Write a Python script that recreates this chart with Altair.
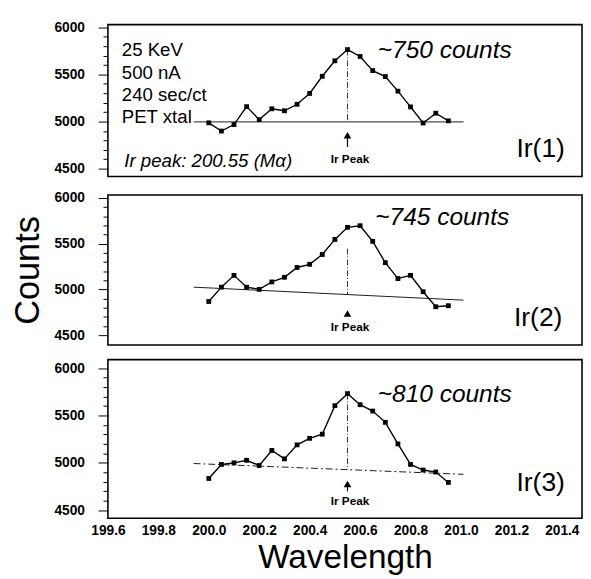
import altair as alt
import pandas as pd

# ---------------- data ----------------
wavelength = [200.00, 200.05, 200.10, 200.15, 200.20, 200.25, 200.30, 200.35, 200.40, 200.45,
              200.50, 200.55, 200.60, 200.65, 200.70, 200.75, 200.80, 200.85, 200.90, 200.95]
counts_1 = [4986, 4899, 4968, 5158, 5020, 5135, 5114, 5183, 5298, 5480,
            5644, 5763, 5690, 5540, 5477, 5322, 5155, 4984, 5088, 5007]
counts_2 = [4868, 5025, 5154, 5025, 5001, 5082, 5133, 5240, 5275, 5382,
            5547, 5679, 5697, 5526, 5293, 5119, 5154, 4975, 4811, 4822]
counts_3 = [4835, 4983, 5000, 5027, 4972, 5131, 5042, 5190, 5259, 5303,
            5604, 5731, 5614, 5547, 5428, 5200, 4983, 4924, 4903, 4793]

panel_labels = ["Ir(1)", "Ir(2)", "Ir(3)"]
excess_labels = ["~750 counts", "~745 counts", "~810 counts"]
info_lines = ["25 KeV", "500 nA", "240 sec/ct", "PET xtal"]
info_counts = [5758, 5509, 5280, 5051]
peak_note = "Ir peak: 200.55 (M\u03b1)"
peak_wavelength = 200.55
peak_label = "Ir Peak"

y_ticks = [4500, 4600, 4700, 4800, 4900, 5000, 5100, 5200, 5300, 5400,
           5500, 5600, 5700, 5800, 5900, 6000]
x_ticks = [199.6, 199.8, 200.0, 200.2, 200.4, 200.6, 200.8, 201.0, 201.2, 201.4]

# background (baseline) lines: start / end wavelength and counts
background_x = [199.94, 201.01]
background_y = [[4996, 4996], [5025, 4883], [4993, 4879]]
# peak marker lines (top / bottom counts)
peak_top = [5763, 5446, 5731]
peak_bottom = [4996, 4940, 4929]
# arrows below the baseline (head, stem end)
arrow_head = [4854, 4736, 4776]
arrow_tail = [4730, 4736, 4700]
peak_label_y = [4600, 4586, 4600]
# annotation anchors
excess_xy = [(200.67, 5758), (200.66, 5786), (200.67, 5728)]
panel_label_xy = [(201.22, 4707), (201.21, 4685), (201.22, 4786)]
note_xy = (199.665, 4584)
info_x = 199.655

domains = [[4417, 6028], [4393, 6032], [4414, 6090]]
heights = [155, 153, 162]
series = [counts_1, counts_2, counts_3]

FONT = "Liberation Sans"
W = 484

x_scale = alt.Scale(domain=[199.6, 201.48], nice=False, zero=False)


def make_panel(i):
    last = i == 2
    if last:
        x_axis = alt.Axis(values=x_ticks, format=".1f", ticks=False, domain=False, grid=False,
                          labelFlush=False, labelOverlap=False,
                          labelFont=FONT, labelFontWeight="bold", labelFontSize=14,
                          labelPadding=6, labelColor="black",
                          title="Wavelength", titleFont=FONT, titleFontSize=34,
                          titleFontWeight="normal", titlePadding=3, titleColor="black")
        xenc = alt.X("x:Q", scale=x_scale, axis=x_axis)
    else:
        xenc = alt.X("x:Q", scale=x_scale, axis=None)

    y_axis_kw = dict(values=y_ticks, format="d", labelFlush=False, labelOverlap=False,
                     labelExpr="datum.value % 500 === 0 ? datum.label : ''",
                     tickSize={"condition": {"test": "datum.value % 500 === 0", "value": 10}, "value": 5},
                     tickColor="black", tickWidth=1, domain=False, grid=False,
                     labelFont=FONT, labelFontWeight="bold", labelFontSize=14,
                     labelPadding=14, labelColor="black")
    if i == 1:
        y_axis = alt.Axis(title="Counts", titleFont=FONT, titleFontSize=35,
                          titleFontWeight="normal", titlePadding=9, titleColor="black",
                          **y_axis_kw)
    else:
        y_axis = alt.Axis(title=None, **y_axis_kw)
    yenc = alt.Y("y:Q", scale=alt.Scale(domain=domains[i], nice=False, zero=False), axis=y_axis)

    data = pd.DataFrame({"x": wavelength, "y": series[i]})
    line = alt.Chart(data).mark_line(color="black", strokeWidth=1.4).encode(x=xenc, y=yenc)
    pts = alt.Chart(data).mark_square(color="black", size=24, opacity=1).encode(x=xenc, y=yenc)

    bdf = pd.DataFrame({"x": [background_x[0]], "x2": [background_x[1]],
                        "y": [background_y[i][0]], "y2": [background_y[i][1]]})
    base_kw = dict(color="black", strokeWidth=0.9)
    if i == 2:
        base_kw["strokeDash"] = [7, 3, 2, 3]
    base = alt.Chart(bdf).mark_rule(**base_kw).encode(x=xenc, x2="x2:Q", y=yenc, y2="y2:Q")

    pdf = pd.DataFrame({"x": [peak_wavelength], "y": [peak_top[i]], "y2": [peak_bottom[i]]})
    peak = alt.Chart(pdf).mark_rule(color="black", strokeWidth=0.8, strokeDash=[6, 2, 1, 2]).encode(
        x=xenc, y=yenc, y2="y2:Q")

    adf = pd.DataFrame({"x": [peak_wavelength], "y": [arrow_head[i]], "y2": [arrow_tail[i]]})
    stem = alt.Chart(adf).mark_rule(color="black", strokeWidth=1.2).encode(x=xenc, y=yenc, y2="y2:Q")
    head = alt.Chart(adf).mark_point(shape="triangle-up", filled=True, color="black", size=60,
                                     opacity=1).encode(x=xenc, y=yenc)

    ldf = pd.DataFrame({"x": [peak_wavelength + 0.01], "y": [peak_label_y[i]], "t": [peak_label]})
    plabel = alt.Chart(ldf).mark_text(font=FONT, fontSize=12, fontWeight="bold", color="black",
                                      align="center", baseline="middle").encode(x=xenc, y=yenc, text="t:N")

    edf = pd.DataFrame({"x": [excess_xy[i][0]], "y": [excess_xy[i][1]], "t": [excess_labels[i]]})
    excess = alt.Chart(edf).mark_text(font=FONT, fontSize=25, fontStyle="italic", color="black",
                                      align="left", baseline="middle").encode(x=xenc, y=yenc, text="t:N")

    ndf = pd.DataFrame({"x": [panel_label_xy[i][0]], "y": [panel_label_xy[i][1]], "t": [panel_labels[i]]})
    name = alt.Chart(ndf).mark_text(font=FONT, fontSize=27, color="black",
                                    align="left", baseline="middle").encode(x=xenc, y=yenc, text="t:N")

    layers = [base, peak, stem, head, line, pts, plabel, excess, name]

    if i == 0:
        idf = pd.DataFrame({"x": [info_x] * len(info_lines), "y": info_counts, "t": info_lines})
        info = alt.Chart(idf).mark_text(font=FONT, fontSize=19, color="black",
                                        align="left", baseline="middle").encode(x=xenc, y=yenc, text="t:N")
        ndf2 = pd.DataFrame({"x": [note_xy[0]], "y": [note_xy[1]], "t": [peak_note]})
        note = alt.Chart(ndf2).mark_text(font=FONT, fontSize=19, fontStyle="italic", color="black",
                                         align="left", baseline="middle").encode(x=xenc, y=yenc, text="t:N")
        layers += [info, note]

    return alt.layer(*layers).properties(width=W, height=heights[i])


chart = alt.vconcat(make_panel(0), make_panel(1), make_panel(2), spacing=13).configure_view(
    stroke="black", strokeWidth=1.6
).properties(padding={"left": 2, "top": 5, "right": 0, "bottom": 0}, background="white")

chart.save("out.html", embed_options={"renderer": "svg", "actions": False})
